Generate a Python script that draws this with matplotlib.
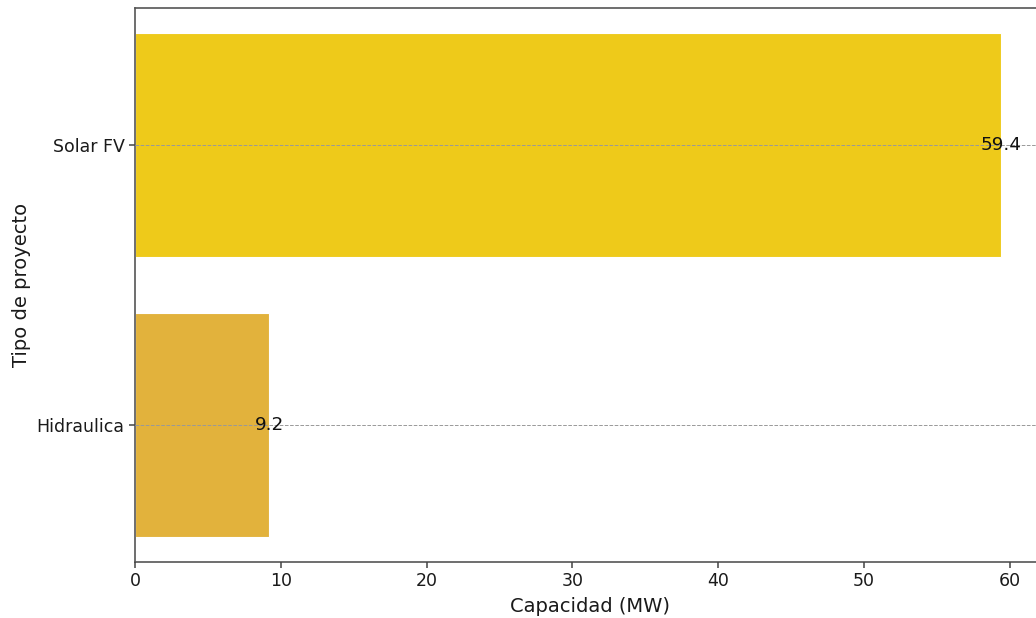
import matplotlib
matplotlib.use("Agg")
import matplotlib.pyplot as plt

plt.rcParams["font.family"] = ["DejaVu Sans"]

categories = ["Hidraulica", "Solar FV"]
values = [9.2, 59.4]
colors = ["#E2B23C", "#EECA1A"]

fig = plt.figure(figsize=(10.36, 6.18), dpi=100)
ax = fig.add_axes([135/1036, 1-562/618, (62.37*14.583)/1036, (562-8)/618])

bars = ax.barh(categories, values, height=0.8, color=colors, edgecolor="white", linewidth=0.8, zorder=2)
ax.set_xlim(0, max(values)*1.05)
ax.grid(axis="y", linestyle="--", color="#999999", linewidth=0.7, zorder=3)
ax.set_axisbelow(False)

for b, v in zip(bars, values):
    ax.text(v, b.get_y() + b.get_height()/2, f"{v:.1f}", ha="center", va="center",
            fontsize=13.2, color="#111111", zorder=4)

ax.set_xlabel("Capacidad (MW)", fontsize=14, color="#1a1a1a", labelpad=5)
ax.set_ylabel("Tipo de proyecto", fontsize=14, color="#1a1a1a", labelpad=4)
ax.tick_params(labelsize=12.5, colors="#444444", labelcolor="#1a1a1a", width=1.1, length=4)
for s in ax.spines.values():
    s.set_color("#555555")
    s.set_linewidth(1.2)
ax.spines["right"].set_visible(False)

fig.savefig("out.png", dpi=100)
